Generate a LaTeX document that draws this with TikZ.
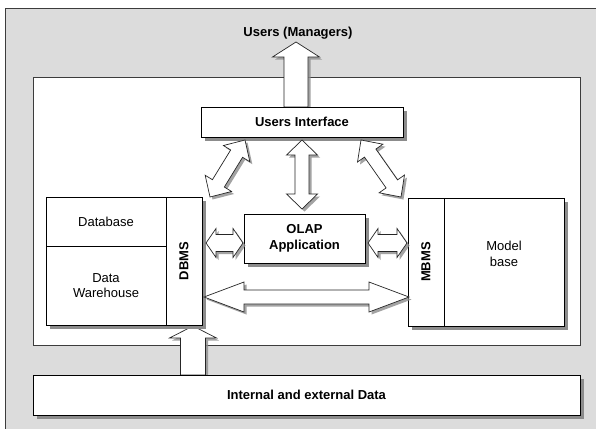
\documentclass[tikz,border=0pt]{standalone}
\usepackage{fontspec}
\setmainfont{Liberation Sans}
\usetikzlibrary{calc,shadows}
\definecolor{panelgray}{RGB}{220,220,220}
\definecolor{framegray}{RGB}{60,60,60}
\definecolor{shadowgray}{RGB}{140,140,140}
\tikzset{
  softshadow/.style={drop shadow={shadow xshift=3.5pt,shadow yshift=-3.5pt,fill=shadowgray,opacity=1}},
  arrowshadow/.style={drop shadow={shadow xshift=2.5pt,shadow yshift=-2.5pt,fill=shadowgray,opacity=.8}},
  box/.style={draw=black, fill=white, line width=1pt, inner sep=0pt, align=center,
    font=\fontsize{13}{15.5}\selectfont},
  boldbox/.style={box, font=\fontsize{13}{15.5}\selectfont\bfseries},
  blockarrow/.style={draw=black!85, fill=white, line width=0.7pt, line join=miter, arrowshadow},
}
% double-headed block arrow: #1,#2 ends, #3 shaft half width, #4 head half width, #5 head length
\newcommand\dblarrow[5]{%
  \coordinate (ha) at ($(#1)!#5!(#2)$);
  \coordinate (hb) at ($(#2)!#5!(#1)$);
  \path[blockarrow] (#1) -- ($(ha)!#4!90:(#2)$) -- ($(ha)!#3!90:(#2)$)
    -- ($(hb)!#3!-90:(#1)$) -- ($(hb)!#4!-90:(#1)$) -- (#2)
    -- ($(hb)!#4!90:(#1)$) -- ($(hb)!#3!90:(#1)$)
    -- ($(ha)!#3!-90:(#2)$) -- ($(ha)!#4!-90:(#2)$) -- cycle;
}
% single-headed block arrow: #1 base, #2 tip, #3 shaft half width, #4 head half width, #5 head length
\newcommand\sglarrow[5]{%
  \coordinate (ha) at ($(#2)!#5!(#1)$);
  \path[blockarrow] ($(#1)!#3!90:(#2)$) -- ($(ha)!#3!90:(#2)$) -- ($(ha)!#4!90:(#2)$)
    -- (#2) -- ($(ha)!#4!-90:(#2)$) -- ($(ha)!#3!-90:(#2)$) -- ($(#1)!#3!-90:(#2)$) -- cycle;
}
\begin{document}
\begin{tikzpicture}[x=1pt,y=-1pt]
\useasboundingbox (0,0) rectangle (596,428);
\fill[white] (0,0) rectangle (596,428);
% grey panel
\fill[panelgray] (5.5,8.5) rectangle (600,432);
\draw[framegray, line width=0.8pt] (5.5,432) -- (5.5,8.5) -- (600,8.5);
% white system frame
\node[draw=framegray, fill=white, line width=1pt, inner sep=0pt,
      minimum width=547pt, minimum height=268pt] (sys) at (306.5,211) {};

% titles and boxes
\node[font=\fontsize{13}{15.5}\selectfont\bfseries] (users) at (298,33) {Users (Managers)};

\coordinate (topbase) at (296,107);
\coordinate (toptip) at (296,42);
\sglarrow{topbase}{toptip}{12pt}{23.5pt}{15pt}

\coordinate (botbase) at (193,375);
\coordinate (bottip) at (193,326);
\sglarrow{botbase}{bottip}{12.5pt}{23.5pt}{12pt}

\node[boldbox, softshadow, minimum width=202pt, minimum height=30pt] (ui) at (302,122) {Users Interface};

\node[boldbox, softshadow, minimum width=121pt, minimum height=49pt] (olap) at (304.5,238.5) {OLAP\\Application};

% DBMS group
\node[box, softshadow, minimum width=156pt, minimum height=128pt] (dbgroup) at (124,261) {};
\node[box, minimum width=120pt, minimum height=49pt] (db) at (106,221.5) {Database};
\node[box, minimum width=120pt, minimum height=79pt] (dw) at (106,285.5) {Data\\Warehouse};
\node[boldbox, minimum width=36pt, minimum height=128pt] (dbms) at (184,261) {};
\node[font=\fontsize{13}{15.5}\selectfont\bfseries, rotate=90] at (dbms) {DBMS};

% MBMS group
\node[box, softshadow, minimum width=156pt, minimum height=128pt] (mbgroup) at (486,262) {};
\node[boldbox, minimum width=36pt, minimum height=128pt] (mbms) at (426,262) {};
\node[font=\fontsize{13}{15.5}\selectfont\bfseries, rotate=90] at (mbms) {MBMS};
\node[box, minimum width=120pt, minimum height=128pt] (mb) at (504,262) {};
\node[font=\fontsize{13}{15.5}\selectfont, align=center] at (504,254) {Model\\base};

\node[boldbox, softshadow, minimum width=547pt, minimum height=40pt] (ext) at (306.5,395) {Internal and external Data};

% arrows between components
\coordinate (c1) at (302,140); \coordinate (c2) at (302,209);
\dblarrow{c1}{c2}{7pt}{15.5pt}{15pt}
\coordinate (l1) at (245,140); \coordinate (l2) at (210,197);
\dblarrow{l1}{l2}{7pt}{15.5pt}{16pt}
\coordinate (r1) at (361,140); \coordinate (r2) at (401,197);
\dblarrow{r1}{r2}{7pt}{15.5pt}{16pt}
\coordinate (s1) at (206,243); \coordinate (s2) at (243,243);
\dblarrow{s1}{s2}{8.5pt}{14.5pt}{10pt}
\coordinate (t1) at (368,243); \coordinate (t2) at (407,243);
\dblarrow{t1}{t2}{8.5pt}{14.5pt}{10pt}
\coordinate (w1) at (204,297); \coordinate (w2) at (409,297);
\dblarrow{w1}{w2}{7pt}{15pt}{40pt}
\end{tikzpicture}
\end{document}
